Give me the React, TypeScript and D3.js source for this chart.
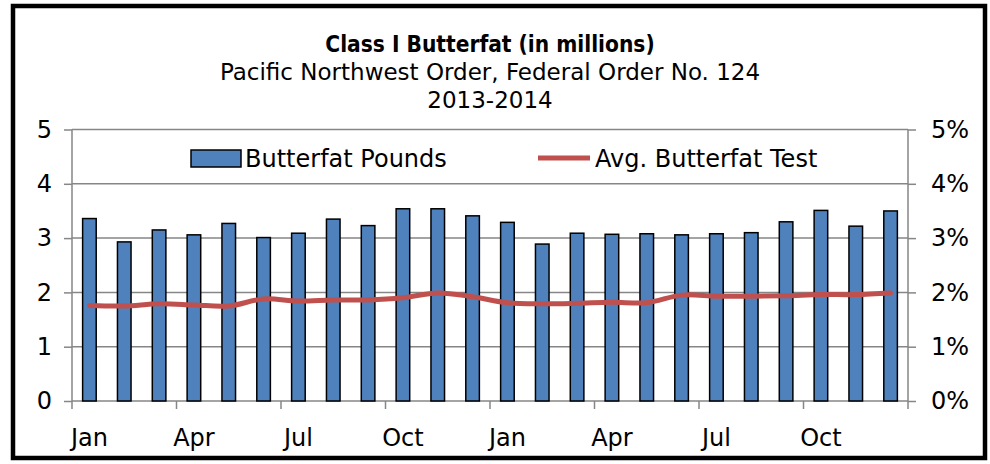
import * as d3 from "d3";
import React, { useEffect, useRef } from "react";

const months = [
  "Jan", "Feb", "Mar", "Apr", "May", "Jun", "Jul", "Aug", "Sep", "Oct", "Nov", "Dec",
  "Jan", "Feb", "Mar", "Apr", "May", "Jun", "Jul", "Aug", "Sep", "Oct", "Nov", "Dec",
];
const butterfatPounds = [
  3.36, 2.93, 3.15, 3.06, 3.27, 3.01, 3.09, 3.35, 3.23, 3.54, 3.54, 3.41,
  3.29, 2.89, 3.09, 3.07, 3.08, 3.06, 3.08, 3.1, 3.3, 3.51, 3.22, 3.5,
];
const butterfatTest = [
  1.76, 1.75, 1.79, 1.77, 1.75, 1.88, 1.84, 1.86, 1.86, 1.9, 1.99, 1.92,
  1.81, 1.79, 1.8, 1.82, 1.81, 1.95, 1.93, 1.93, 1.94, 1.96, 1.96, 1.99,
];
const leftTicks = [0, 1, 2, 3, 4, 5];
const rightTicks = [0, 1, 2, 3, 4, 5];
const labelledMonths = ["Jan", "Apr", "Jul", "Oct"];

const FONT = "'DejaVu Sans', sans-serif";
const FONT_COND = "'DejaVu Sans Condensed', 'DejaVu Sans', sans-serif";

export default function App() {
  const ref = useRef<SVGSVGElement>(null);

  useEffect(() => {
    const svg = d3.select(ref.current);
    svg.selectAll("*").remove();

    const left = 72;
    const right = 908;
    const top = 129.5;
    const bottom = 401;
    const idx = months.map((_, i) => i);

    const x = d3.scaleBand<number>().domain(idx).range([left, right]).paddingInner(0.61).paddingOuter(0.305);
    const xb = d3.scaleBand<number>().domain(idx).range([left, right]);
    const y = d3.scaleLinear().domain([0, 5]).range([bottom, top]);
    const yr = d3.scaleLinear().domain([0, 5]).range([bottom, top]);

    // outer frame
    svg.append("rect")
      .attr("x", 13).attr("y", 6).attr("width", 972).attr("height", 452)
      .attr("fill", "#fff").attr("stroke", "#000").attr("stroke-width", 4.5);

    // titles
    const titles = svg.append("g").attr("text-anchor", "middle").attr("fill", "#000");
    titles.append("text").attr("x", 490).attr("y", 52).attr("font-family", FONT_COND)
      .attr("font-size", 22.5).attr("font-weight", "bold")
      .text("Class I Butterfat (in millions)");
    titles.append("text").attr("x", 490).attr("y", 80).attr("font-family", FONT).attr("font-size", 23)
      .text("Pacific Northwest Order, Federal Order No. 124");
    titles.append("text").attr("x", 490).attr("y", 108).attr("font-family", FONT).attr("font-size", 23)
      .text("2013-2014");

    // gridlines
    svg.append("g").selectAll("line").data(leftTicks.filter((d) => d > 0)).enter().append("line")
      .attr("x1", left).attr("x2", right).attr("y1", (d) => y(d)).attr("y2", (d) => y(d))
      .attr("stroke", "#868686").attr("stroke-width", 1.5);

    // left axis
    const la = svg.append("g").attr("transform", `translate(${left},0)`)
      .call(d3.axisLeft(y).tickValues(leftTicks).tickSize(8).tickPadding(12).tickFormat(d3.format("d")));
    la.select(".domain").attr("stroke", "#868686").attr("stroke-width", 1.5).attr("d", `M0,${top}V${bottom}`);
    la.selectAll(".tick line").attr("stroke", "#868686").attr("stroke-width", 1.5);
    la.selectAll(".tick text").attr("font-family", FONT).attr("font-size", 24).attr("fill", "#000");

    // right axis
    const ra = svg.append("g").attr("transform", `translate(${right},0)`)
      .call(d3.axisRight(yr).tickValues(rightTicks).tickSize(8).tickPadding(15).tickFormat((d) => `${d}%`));
    ra.select(".domain").attr("stroke", "#868686").attr("stroke-width", 1.5).attr("d", `M0,${top}V${bottom}`);
    ra.selectAll(".tick line").attr("stroke", "#868686").attr("stroke-width", 1.5);
    ra.selectAll(".tick text").attr("font-family", FONT).attr("font-size", 24).attr("fill", "#000");

    // bottom axis: ticks at quarter boundaries
    const bx = svg.append("g");
    bx.append("line").attr("x1", left).attr("x2", right).attr("y1", bottom).attr("y2", bottom)
      .attr("stroke", "#868686").attr("stroke-width", 1.5);
    const boundaries = idx.filter((i) => i % 3 === 0).map((i) => xb(i) as number).concat([right]);
    bx.selectAll("line.tk").data(boundaries).enter().append("line").attr("class", "tk")
      .attr("x1", (d) => d).attr("x2", (d) => d).attr("y1", bottom).attr("y2", bottom + 8)
      .attr("stroke", "#868686").attr("stroke-width", 1.5);
    bx.selectAll("text").data(idx.filter((i) => labelledMonths.includes(months[i]) && i % 3 === 0)).enter()
      .append("text")
      .attr("x", (i) => (xb(i) as number) + xb.bandwidth() / 2)
      .attr("y", 446).attr("text-anchor", "middle")
      .attr("font-family", FONT).attr("font-size", 24).attr("fill", "#000")
      .text((i) => months[i]);

    // bars
    svg.append("g").selectAll("rect").data(butterfatPounds).enter().append("rect")
      .attr("x", (_, i) => x(i) as number).attr("width", x.bandwidth())
      .attr("y", (d) => y(d)).attr("height", (d) => bottom - y(d))
      .attr("fill", "#4F81BD").attr("stroke", "#000").attr("stroke-width", 1.5);

    // line
    const line = d3.line<number>()
      .x((_, i) => (xb(i) as number) + xb.bandwidth() / 2)
      .y((d) => yr(d))
      .curve(d3.curveCatmullRom.alpha(0.5));
    svg.append("path").datum(butterfatTest).attr("d", line)
      .attr("fill", "none").attr("stroke", "#C0504D").attr("stroke-width", 5).attr("stroke-linecap", "round");

    // legend
    const lg = svg.append("g").attr("font-family", FONT).attr("font-size", 24).attr("fill", "#000");
    lg.append("rect").attr("x", 191).attr("y", 150).attr("width", 50).attr("height", 17)
      .attr("fill", "#4F81BD").attr("stroke", "#000").attr("stroke-width", 1.5);
    lg.append("text").attr("x", 245).attr("y", 167).text("Butterfat Pounds");
    lg.append("line").attr("x1", 538).attr("x2", 590).attr("y1", 158).attr("y2", 158)
      .attr("stroke", "#C0504D").attr("stroke-width", 5);
    lg.append("text").attr("x", 595).attr("y", 167).text("Avg. Butterfat Test");
  }, []);

  return (
    <svg ref={ref} width={990} height={464}
      style={{ position: "absolute", left: 0, top: 0, display: "block", background: "#fff" }} />
  );
}
